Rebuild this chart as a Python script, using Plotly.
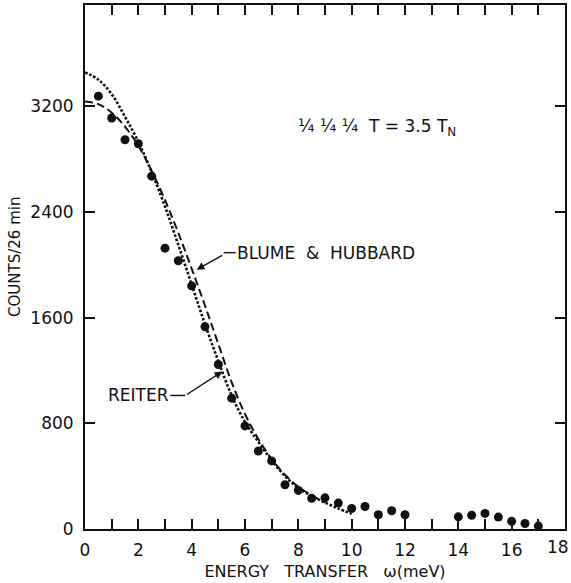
import numpy as np
import plotly.graph_objects as go

# Measured counts (per 26 min) versus energy transfer (meV)
omega_pts = [0.5, 1.0, 1.5, 2.0, 2.5, 3.0, 3.5, 4.0, 4.5, 5.0, 5.5, 6.0,
             6.5, 7.0, 7.5, 8.0, 8.5, 9.0, 9.5, 10.0, 10.5, 11.0, 11.5, 12.0,
             14.0, 14.5, 15.0, 15.5, 16.0, 16.5, 17.0]
counts_pts = [3275, 3110, 2945, 2915, 2670, 2125, 2030, 1840, 1530, 1245, 990, 780,
              590, 515, 335, 292, 232, 236, 196, 155, 170, 108, 138, 108,
              92, 104, 118, 90, 58, 42, 22]

# Reiter calculation (dotted)
omega_reiter = [0.0, 0.5, 1.0, 1.5, 2.0, 2.5, 3.0, 3.5, 4.0, 4.5, 5.0, 5.5,
                6.0, 6.5, 7.0, 7.5, 8.0, 8.5, 9.0, 9.5, 10.0]
counts_reiter = [3455, 3400, 3290, 3120, 2930, 2700, 2440, 2150, 1850, 1550, 1270, 1010,
                 810, 660, 520, 400, 310, 250, 200, 155, 115]

# Blume & Hubbard calculation (dashed)
omega_bh = [0.0, 0.5, 1.0, 1.5, 2.0, 2.5, 3.0, 3.5, 4.0, 4.5, 5.0, 5.5,
            6.0, 6.5, 7.0, 7.5, 8.0, 8.5, 9.0]
counts_bh = [3235, 3215, 3150, 3045, 2900, 2710, 2490, 2240, 1970, 1690, 1400, 1110,
             870, 680, 530, 410, 320, 255, 200]

X_MAX = 18
x_ticks = list(range(0, X_MAX + 1))
# even ticks are labelled; the last one is placed separately so it stays inside the page
x_ticklabels = [str(v) if v % 2 == 0 and v != X_MAX else "" for v in x_ticks]
y_ticks = [0, 800, 1600, 2400, 3200]
y_ticklabels = ["0", "800", "1600", "2400", "3200"]

FONT = "DejaVu Sans"
INK = "#111111"

fig = go.Figure()

fig.add_trace(go.Scatter(
    x=omega_reiter, y=counts_reiter, mode="lines",
    line=dict(color=INK, width=2.6, dash="2.6px,1.8px", shape="spline"),
    hoverinfo="skip", showlegend=False))

fig.add_trace(go.Scatter(
    x=omega_bh, y=counts_bh, mode="lines",
    line=dict(color=INK, width=2, dash="8px,4px", shape="spline"),
    hoverinfo="skip", showlegend=False))

fig.add_trace(go.Scatter(
    x=omega_pts, y=counts_pts, mode="markers",
    marker=dict(color=INK, size=9, line=dict(width=0)),
    hoverinfo="skip", showlegend=False))

# Leader arrows pointing at the two calculated curves
bh_tip_x = 4.0
bh_tip_y = float(np.interp(bh_tip_x, omega_bh, counts_bh))
re_tip_x = 5.15
re_tip_y = float(np.interp(re_tip_x, omega_reiter, counts_reiter))

annotations = [
    dict(x=bh_tip_x, y=bh_tip_y, xref="x", yref="y", text="", showarrow=True,
         arrowhead=2, arrowsize=1.1, arrowwidth=1.4, arrowcolor=INK,
         ax=27, ay=-15, xshift=5, yshift=-1),
    dict(x=bh_tip_x, y=bh_tip_y, xref="x", yref="y", xshift=43, yshift=16,
         text="BLUME  &  HUBBARD", showarrow=False, xanchor="left", yanchor="middle",
         font=dict(family=FONT, size=17, color=INK)),
    dict(x=re_tip_x, y=re_tip_y, xref="x", yref="y", text="", showarrow=True,
         arrowhead=2, arrowsize=1.1, arrowwidth=1.4, arrowcolor=INK,
         ax=-37, ay=24),
    dict(x=re_tip_x, y=re_tip_y, xref="x", yref="y", xshift=-51, yshift=-24,
         text="REITER", showarrow=False, xanchor="right", yanchor="middle",
         font=dict(family=FONT, size=17, color=INK)),
    dict(x=10.95, y=3040, xref="x", yref="y",
         text="¼ ¼ ¼  T = 3.5 T<sub>N</sub>", showarrow=False,
         xanchor="center", yanchor="middle",
         font=dict(family=FONT, size=17, color=INK)),
    dict(x=-0.146, y=0.5, xref="paper", yref="paper", text="COUNTS/26 min",
         textangle=-90, showarrow=False, xanchor="center", yanchor="middle",
         yshift=10, font=dict(family=FONT, size=15, color=INK)),
    # label of the last x tick, kept flush with the page edge
    dict(x=X_MAX, y=0, xref="x", yref="paper", text=str(X_MAX), showarrow=False,
         xanchor="right", yanchor="top", xshift=6, yshift=-6,
         font=dict(family=FONT, size=17, color=INK)),
]

# short horizontal leader segments between label and arrow
shapes = [
    dict(type="line", xref="x", yref="y", xsizemode="pixel", ysizemode="pixel",
         xanchor=bh_tip_x, yanchor=bh_tip_y, x0=32, x1=44, y0=16, y1=16,
         line=dict(color=INK, width=1.4)),
    dict(type="line", xref="x", yref="y", xsizemode="pixel", ysizemode="pixel",
         xanchor=re_tip_x, yanchor=re_tip_y, x0=-52, x1=-37, y0=-24, y1=-24,
         line=dict(color=INK, width=1.4)),
]

fig.update_layout(
    width=571, height=583,
    margin=dict(l=85, r=6, t=5, b=54, autoexpand=False),
    paper_bgcolor="white", plot_bgcolor="white",
    font=dict(family=FONT, size=16, color=INK),
    annotations=annotations, shapes=shapes,
    xaxis=dict(
        range=[0, X_MAX], tickmode="array", tickvals=x_ticks, ticktext=x_ticklabels,
        ticks="inside", ticklen=10, tickwidth=1.5, tickcolor=INK,
        showline=True, linewidth=2, linecolor=INK, mirror="allticks",
        showgrid=False, zeroline=False, ticklabelstandoff=5,
        ticklabeloverflow="allow", automargin=False,
        tickfont=dict(family=FONT, size=17, color=INK),
        title=dict(text="ENERGY   TRANSFER   ω(meV)", standoff=6,
                   font=dict(family=FONT, size=16, color=INK)),
    ),
    yaxis=dict(
        range=[0, 3965], tickmode="array", tickvals=y_ticks, ticktext=y_ticklabels,
        ticks="inside", ticklen=10, tickwidth=1.5, tickcolor=INK,
        showline=True, linewidth=2, linecolor=INK, mirror="allticks",
        showgrid=False, zeroline=False, ticklabelstandoff=6,
        ticklabeloverflow="allow", automargin=False,
        tickfont=dict(family=FONT, size=17, color=INK),
    ),
)

fig.write_html("out.html")
